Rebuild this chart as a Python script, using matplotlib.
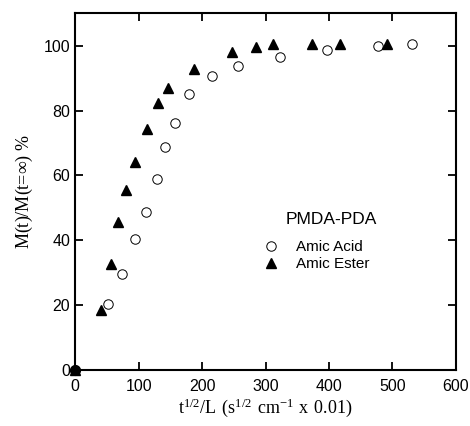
import numpy as np
import matplotlib.pyplot as plt

plt.rcParams.update({
    'font.family': 'Liberation Sans',
    'font.size': 11,
    'axes.linewidth': 1.5,
    'xtick.direction': 'in',
    'ytick.direction': 'in',
    'xtick.top': True,
    'ytick.right': True,
    'xtick.major.size': 6,
    'ytick.major.size': 6,
    'xtick.major.width': 1.3,
    'ytick.major.width': 1.3,
})

# Amic Acid (open circles)
acid_x = [0, 51, 74, 95, 112, 129, 141, 158, 180, 216, 257, 323, 397, 478, 531]
acid_y = [0, 20.4, 29.7, 40.4, 48.8, 59.0, 68.8, 76.1, 85.0, 90.7, 93.8, 96.5, 98.8, 100.0, 100.6]

# Amic Ester (filled triangles)
ester_x = [0, 40, 57, 68, 80, 94, 113, 131, 147, 188, 247, 285, 312, 373, 417, 492]
ester_y = [0, 18.4, 32.7, 45.6, 55.5, 64.2, 74.4, 82.3, 86.9, 92.9, 98.2, 99.7, 100.6, 100.6, 100.6, 100.6]

fig = plt.figure(figsize=(4.7, 4.26), dpi=100)
ax = fig.add_axes([0.16, 0.131, 0.81, 0.838])

ax.plot(acid_x, acid_y, linestyle='none', marker='o', markersize=6.8,
        markerfacecolor='white', markeredgecolor='black', markeredgewidth=0.7,
        label='Amic Acid', clip_on=False, zorder=3)
ax.plot(ester_x, ester_y, linestyle='none', marker='^', markersize=7.5,
        color='black', label='Amic Ester', clip_on=False, zorder=4)
# filled dot at origin
ax.plot([0], [0], linestyle='none', marker='o', markersize=7, color='black',
        clip_on=False, zorder=5)

ax.set_xlim(0, 600)
ax.set_ylim(0, 110)
ax.set_xticks([0, 100, 200, 300, 400, 500, 600])
ax.set_yticks([0, 20, 40, 60, 80, 100])
for lab in ax.get_xticklabels() + ax.get_yticklabels():
    lab.set_fontsize(11.5)
ax.tick_params(axis='x', pad=6)

ax.set_xlabel(r'$\mathregular{t^{1/2}/L\ (s^{1/2}\ cm^{-1}\ x\ 0.01)}$',
              fontfamily='Liberation Serif', fontsize=13, labelpad=2)
ax.set_ylabel(r'M(t)/M(t=$\mathregular{\infty}$) %',
              fontfamily='Liberation Serif', fontsize=13, labelpad=6)

ax.text(331, 46.3, 'PMDA-PDA', fontsize=12.5, ha='left', va='center')
ax.legend(frameon=False, loc='center left', bbox_to_anchor=(0.438, 0.32),
          fontsize=11, handletextpad=0.65, labelspacing=0.2, borderpad=0.4)

fig.savefig('out.png', dpi=100)
